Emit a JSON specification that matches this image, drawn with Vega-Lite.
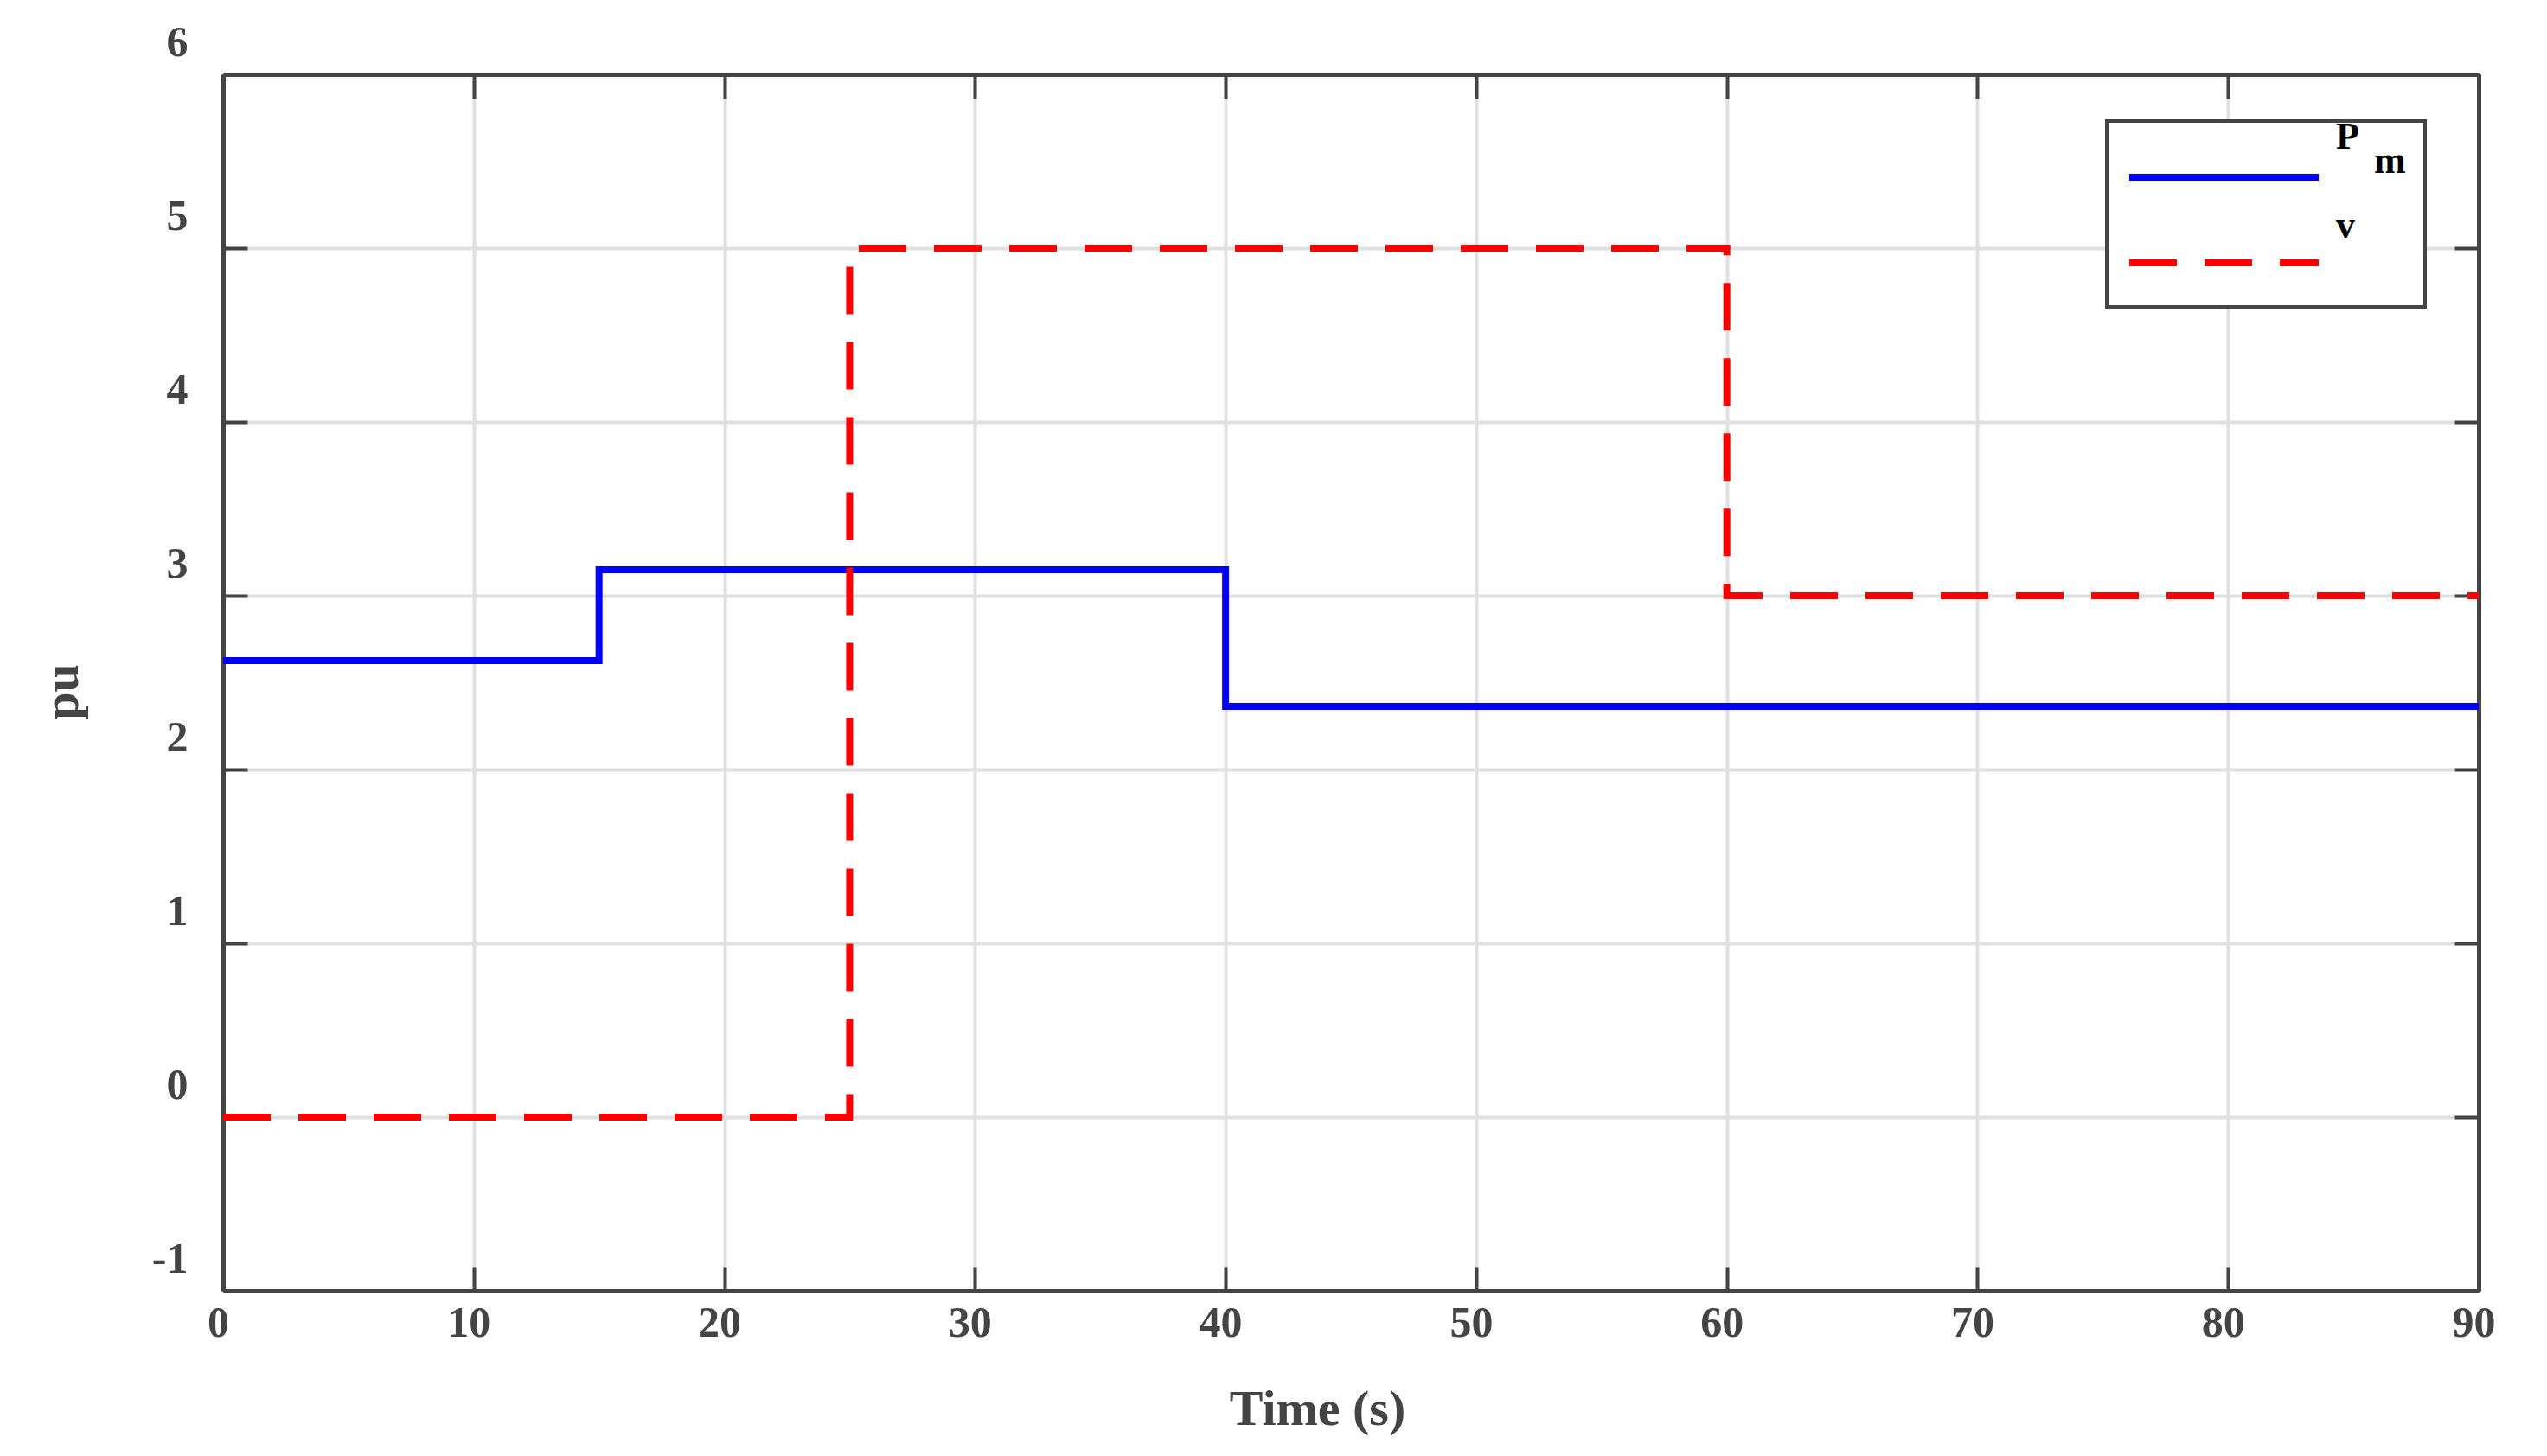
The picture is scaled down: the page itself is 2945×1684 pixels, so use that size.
{
  "$schema": "https://vega.github.io/schema/vega-lite/v6.json",
  "width": 2608,
  "height": 1407,
  "autosize": {"type": "none"},
  "padding": {"left": 258, "top": 86, "right": 79, "bottom": 191},
  "background": "white",
  "data": {"values": [
    {"t": 0, "val": 2.627, "s": "Pm"},
    {"t": 15, "val": 3.149, "s": "Pm"},
    {"t": 40, "val": 2.363, "s": "Pm"},
    {"t": 90, "val": 2.363, "s": "Pm"},
    {"t": 0, "val": 0, "s": "v"},
    {"t": 25, "val": 5, "s": "v"},
    {"t": 60, "val": 3, "s": "v"},
    {"t": 90, "val": 3, "s": "v"}
  ]},
  "layer": [
    {
      "mark": {"type": "line", "interpolate": "step-after", "strokeWidth": 8, "strokeCap": "butt", "strokeJoin": "miter"},
      "encoding": {
        "x": {"field": "t", "type": "quantitative",
          "scale": {"domain": [0, 90], "nice": false, "zero": false},
          "axis": {"orient": "bottom", "values": [0,10,20,30,40,50,60,70,80,90], "grid": true,
            "labelPadding": 40, "labelOffset": -6, "labelFlush": false,
            "title": "Time (s)", "titleX": 1265, "titleY": 154, "titleBaseline": "alphabetic", "titleAlign": "center", "titleAnchor": null}},
        "y": {"field": "val", "type": "quantitative",
          "scale": {"domain": [-1, 6], "nice": false, "zero": false},
          "axis": {"orient": "left", "values": [-1,0,1,2,3,4,5,6], "grid": true,
            "labelPadding": 69, "labelOffset": -37, "labelFlush": false, "labelExpr": "'' + datum.value",
            "title": "pu", "titleAngle": -90, "titleX": -186, "titleY": 714, "titleBaseline": "middle", "titleAlign": "center", "titleAnchor": null}},
        "color": {"field": "s", "type": "nominal",
          "scale": {"domain": ["Pm", "v"], "range": ["#0000ff", "#ff0000"]},
          "legend": {"title": null, "labelBaseline": "alphabetic",
            "labelExpr": "datum.label == 'Pm' ? ['P', '\u200b\u00a0\u00a0\u00a0\u00a0m'] : ['v']",
            "encode": {
              "symbols": {"update": {"y": {"value": 43}}},
              "labels": {"update": {"y": {"value": 43}, "dy": {"signal": "datum.label == 'Pm' ? -33 : -29"}, "lineHeight": {"value": 28}}}}}},
        "strokeDash": {"field": "s", "type": "nominal",
          "scale": {"domain": ["Pm", "v"], "range": [[1, 0], [55, 32]]},
          "legend": {"title": null, "labelBaseline": "alphabetic",
            "labelExpr": "datum.label == 'Pm' ? ['P', '\u200b\u00a0\u00a0\u00a0\u00a0m'] : ['v']",
            "encode": {
              "symbols": {"update": {"y": {"value": 43}}},
              "labels": {"update": {"y": {"value": 43}, "dy": {"signal": "datum.label == 'Pm' ? -33 : -29"}, "lineHeight": {"value": 28}}}}}}
      }
    },
    {
      "mark": {"type": "line", "opacity": 0},
      "encoding": {
        "x": {"field": "t", "type": "quantitative",
          "axis": {"orient": "top", "values": [0,10,20,30,40,50,60,70,80,90], "grid": false, "labels": false, "title": null}},
        "y": {"field": "val", "type": "quantitative",
          "axis": {"orient": "right", "values": [-1,0,1,2,3,4,5,6], "grid": false, "labels": false, "title": null}},
        "detail": {"field": "s", "type": "nominal"}
      }
    }
  ],
  "resolve": {"axis": {"x": "independent", "y": "independent"}},
  "config": {
    "view": {"stroke": null},
    "axis": {
      "domain": true, "domainColor": "#444444", "domainWidth": 5,
      "ticks": true, "tickSize": -28, "tickColor": "#444444", "tickWidth": 4,
      "gridColor": "#e0e0e0", "gridWidth": 4, "gridOpacity": 1,
      "labelFont": "Liberation Serif", "labelFontWeight": "bold", "labelFontSize": 50, "labelColor": "#444444",
      "titleFont": "Liberation Serif", "titleFontWeight": "bold", "titleFontSize": 58, "titleColor": "#444444",
      "labelOverlap": false
    },
    "legend": {
      "orient": "none", "legendX": 2178, "legendY": 54, "direction": "vertical",
      "strokeColor": "#444444", "strokeWidth": 4, "fillColor": "white", "padding": 22,
      "symbolType": "stroke", "symbolSize": 47961, "symbolStrokeWidth": 8,
      "clipHeight": 72, "rowPadding": 6, "labelOffset": 16,
      "labelFont": "Liberation Serif", "labelFontWeight": "bold", "labelFontSize": 44, "labelColor": "black"
    }
  }
}
